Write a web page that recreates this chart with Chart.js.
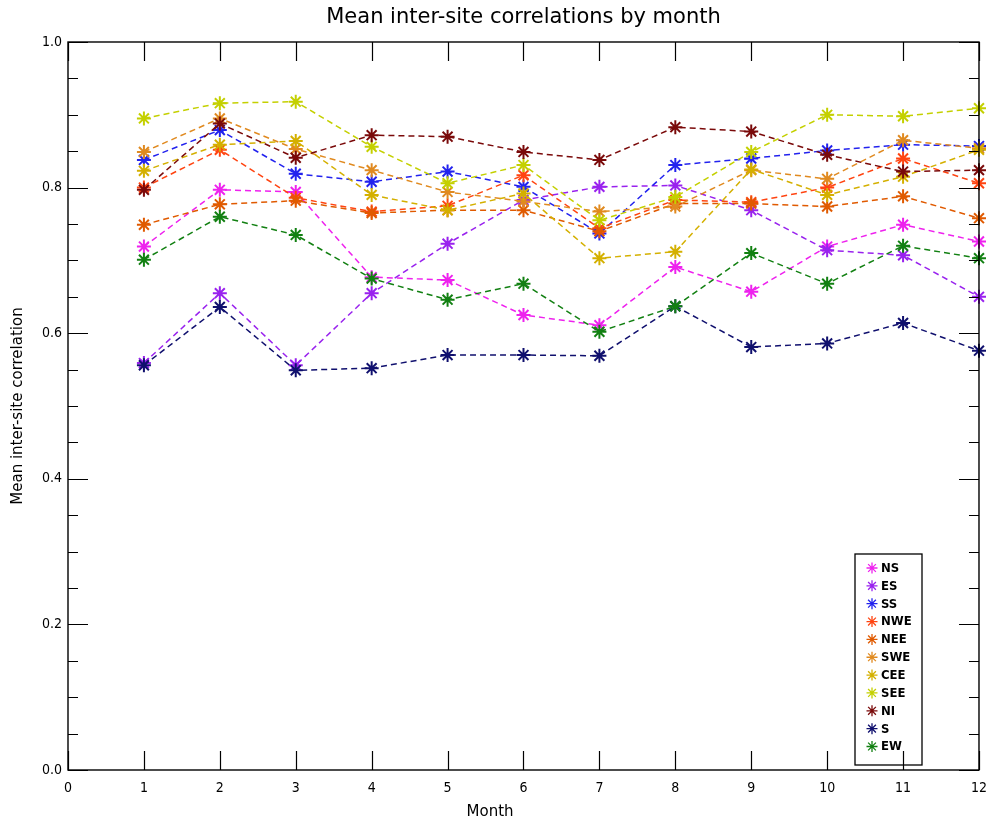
<!DOCTYPE html>
<html><head><meta charset="utf-8">
<script src="https://cdn.jsdelivr.net/npm/chart.js@4"></script>
<style>html,body{margin:0;padding:0;background:#fff;}#wrap{width:997px;height:826px;}</style>
</head><body><div id="wrap"><canvas id="c" width="997" height="826"></canvas></div>
<script>
const months = [1,2,3,4,5,6,7,8,9,10,11,12];
const xTicks = [0,1,2,3,4,5,6,7,8,9,10,11,12];
const yTicks = [0.0,0.2,0.4,0.6,0.8,1.0];
const seriesNames = ["NS","ES","SS","NWE","NEE","SWE","CEE","SEE","NI","S","EW"];
const NS  = [0.719,0.797,0.794,0.677,0.673,0.625,0.611,0.691,0.657,0.719,0.749,0.726];
const ES  = [0.559,0.655,0.556,0.655,0.723,0.783,0.801,0.803,0.769,0.714,0.707,0.650];
const SS  = [0.838,0.879,0.819,0.808,0.822,0.801,0.737,0.831,0.840,0.851,0.859,0.857];
const NWE = [0.800,0.852,0.786,0.767,0.775,0.817,0.744,0.783,0.780,0.800,0.840,0.806];
const NEE = [0.749,0.777,0.782,0.765,0.769,0.769,0.740,0.778,0.778,0.774,0.788,0.758];
const SWE = [0.849,0.895,0.853,0.824,0.794,0.781,0.767,0.774,0.824,0.812,0.865,0.854];
const CEE = [0.823,0.859,0.864,0.790,0.769,0.792,0.703,0.712,0.825,0.790,0.815,0.852];
const SEE = [0.895,0.916,0.918,0.856,0.806,0.831,0.755,0.787,0.849,0.900,0.898,0.909];
const NI  = [0.797,0.888,0.841,0.872,0.870,0.849,0.838,0.883,0.877,0.845,0.822,0.824];
const S   = [0.556,0.636,0.549,0.552,0.570,0.570,0.569,0.637,0.581,0.586,0.614,0.576];
const EW  = [0.701,0.760,0.735,0.675,0.646,0.668,0.602,0.637,0.710,0.668,0.720,0.703];
const seriesValues = [NS,ES,SS,NWE,NEE,SWE,CEE,SEE,NI,S,EW];
const seriesColors = ["#ee22ee","#9922ee","#2222ee","#ff4411","#e05a00","#e08a20","#d4b000","#c4d000","#7a0a0a","#10106e","#128012"];
const chartTitle = 'Mean inter-site correlations by month';

const FONT = '"DejaVu Sans Condensed","DejaVu Sans","Liberation Sans",sans-serif';
const FONTW = '"DejaVu Sans","Liberation Sans",sans-serif';

const datasets = seriesNames.map((name,i)=>({
  label:name,
  data: months.map((m,j)=>({x:m,y:seriesValues[i][j]})),
  borderColor: seriesColors[i],
  backgroundColor: seriesColors[i],
  borderWidth: 1.5,
  borderDash: [6,4],
  pointStyle: 'star',
  pointRadius: 7,
  pointBorderWidth: 2,
  pointBorderColor: seriesColors[i],
  tension: 0,
  clip: false,
  order: seriesNames.length - i
}));

const idlAxes = {
  id:'idlAxes',
  afterDraw(chart){
    const {ctx, chartArea:a, scales:{x,y}} = chart;
    ctx.save();
    ctx.strokeStyle='#000'; ctx.lineWidth=1.4;
    ctx.strokeRect(a.left, a.top, a.right-a.left, a.bottom-a.top);
    ctx.lineWidth=1.2;
    ctx.beginPath();
    xTicks.forEach(v=>{
      const px = Math.round(x.getPixelForValue(v))+0.5;
      ctx.moveTo(px,a.bottom); ctx.lineTo(px,a.bottom-19);
      ctx.moveTo(px,a.top); ctx.lineTo(px,a.top+19);
    });
    for(let k=0;k<=20;k++){
      const v=k*0.05;
      const py = Math.round(y.getPixelForValue(v))+0.5;
      const len = (k%4===0)?20:10;
      ctx.moveTo(a.left,py); ctx.lineTo(a.left+len,py);
      ctx.moveTo(a.right,py); ctx.lineTo(a.right-len,py);
    }
    ctx.stroke();
    ctx.fillStyle='#000';
    ctx.textAlign='center'; ctx.textBaseline='middle';
    // title
    ctx.font='21px '+FONTW;
    ctx.fillText(chartTitle, (a.left+a.right)/2, 18);
    // x axis title
    ctx.font='15px '+FONTW;
    ctx.fillText('Month', x.getPixelForValue(5.56), 812);
    // legend
    const bx=855, by=554, bw=67, bh=211;
    ctx.lineWidth=1.3;
    ctx.strokeRect(bx,by,bw,bh);
    ctx.font = 'bold 13px '+FONT;
    ctx.textBaseline='middle'; ctx.textAlign='left';
    chart.data.datasets.forEach((ds,i)=>{
      const ly = by+14+i*17.85;
      ctx.strokeStyle=ds.borderColor;
      Chart.helpers.drawPoint(ctx,{pointStyle:'star',radius:5.5,borderWidth:1.5,rotation:0},bx+17,ly);
      ctx.fillStyle='#000';
      ctx.fillText(ds.label,bx+26,ly+0.5);
    });
    ctx.restore();
  }
};

new Chart(document.getElementById('c'),{
  type:'line',
  data:{datasets},
  options:{
    responsive:false, animation:false, devicePixelRatio:1,
    layout:{padding:{left:0,right:17,top:42,bottom:0}},
    plugins:{
      legend:{display:false},
      tooltip:{enabled:false},
      title:{display:false}
    },
    scales:{
      x:{type:'linear',min:0,max:12,
        afterFit(s){s.height=56;},
        afterBuildTicks(s){s.ticks=xTicks.map(v=>({value:v}));},
        grid:{display:false,drawTicks:false},border:{display:false},
        ticks:{color:'#000',padding:10,maxRotation:0,autoSkip:false,font:{family:FONT,size:14},callback:v=>String(v)},
        title:{display:false}
      },
      y:{type:'linear',min:0,max:1,
        afterFit(s){s.width=68;},
        afterBuildTicks(s){s.ticks=yTicks.map(v=>({value:v}));},
        grid:{display:false,drawTicks:false},border:{display:false},
        ticks:{color:'#000',padding:6,autoSkip:false,font:{family:FONT,size:14},callback:v=>Number(v).toFixed(1)},
        title:{display:true,text:'Mean inter-site correlation',color:'#000',font:{family:FONTW,size:15},padding:{top:9,bottom:0}}
      }
    }
  },
  plugins:[idlAxes]
});
</script></body></html>
